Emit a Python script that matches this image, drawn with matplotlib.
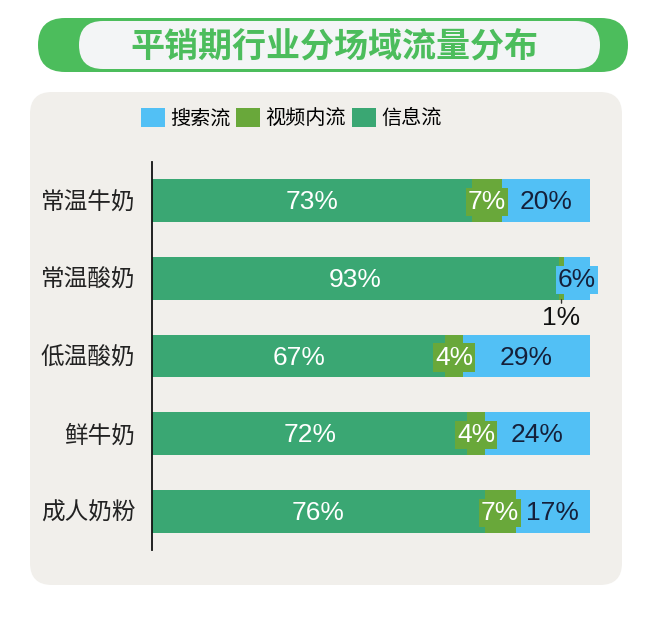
import matplotlib
matplotlib.use("Agg")
import matplotlib.pyplot as plt
from matplotlib.patches import FancyBboxPatch
import numpy as np

plt.rcParams['font.family'] = ['Liberation Sans', 'Noto Sans CJK SC', 'DejaVu Sans']

categories = ['常温牛奶', '常温酸奶', '低温酸奶', '鲜牛奶', '成人奶粉']
info_flow = [73, 93, 67, 72, 76]     # 信息流
video_flow = [7, 1, 4, 4, 7]         # 视频内流
search_flow = [20, 6, 29, 24, 17]    # 搜索流
series_names = ['搜索流', '视频内流', '信息流']

c_info = '#3aa773'
c_video = '#69a83a'
c_search = '#52c0f5'
c_title = '#4cbd5c'

W, H = 660, 620
fig = plt.figure(figsize=(W / 100, H / 100), dpi=100)

# background layer in pixel coordinates
bg = fig.add_axes([0, 0, 1, 1], zorder=-1)
bg.set_xlim(0, W)
bg.set_ylim(H, 0)
bg.axis('off')
bg.add_patch(FancyBboxPatch((38, 18), 590, 54, boxstyle='round,pad=0,rounding_size=27',
                            fc=c_title, ec='none'))
bg.add_patch(FancyBboxPatch((79, 21), 521, 48, boxstyle='round,pad=0,rounding_size=24',
                            fc='#f3f5f6', ec='none'))
bg.text(334, 47, '平销期行业分场域流量分布', ha='center', va='center', fontsize=24.5,
        fontweight='bold', color=c_title, family=['Noto Sans CJK SC'])
bg.add_patch(FancyBboxPatch((30, 92), 592, 493, boxstyle='round,pad=0,rounding_size=22',
                            fc='#f1efeb', ec='none'))

# main chart
ax = fig.add_axes([152 / W, 1 - 550 / H, (590 - 152) / W, (550 - 162) / H])
ax.patch.set_alpha(0)
y = np.arange(len(categories))
h = 0.55
info = np.array(info_flow)
video = np.array(video_flow)
search = np.array(search_flow)

b_info = ax.barh(y, info, height=h, color=c_info)
b_video = ax.barh(y, video, left=info, height=h, color=c_video)
b_search = ax.barh(y, search, left=info + video, height=h, color=c_search)

ax.set_xlim(0, 100)
ax.set_ylim(4.5, -0.5)
ax.set_xticks([])
ax.set_yticks(y)
ax.set_yticklabels(categories, fontsize=17, color='#222222')
ax.tick_params(axis='y', length=0, pad=12)
for s in ['top', 'right', 'bottom']:
    ax.spines[s].set_visible(False)
ax.spines['left'].set_linewidth(1.3)
ax.spines['left'].set_color('#111111')

fs = 19
dy = 0.02
for i in range(len(categories)):
    ax.text(info[i] / 2, y[i] + dy, f'{info[i]}%', ha='center', va='center',
            fontsize=fs, color='white')
    if video[i] >= 3:
        ax.text(info[i] + video[i] / 2, y[i] + dy, f'{video[i]}%', ha='center', va='center',
                fontsize=fs, color='white',
                bbox=dict(boxstyle='square,pad=0.08', fc=c_video, ec='none'))
    else:
        ax.annotate(f'{video[i]}%', xy=(info[i] + video[i] / 2, y[i] + h / 2),
                    xytext=(info[i] + video[i] / 2, y[i] + 0.51), ha='center', va='center',
                    fontsize=fs, color='#111111',
                    arrowprops=dict(arrowstyle='-', color='#333333', lw=1, shrinkA=4, shrinkB=0))
    ax.text(info[i] + video[i] + search[i] / 2, y[i] + dy, f'{search[i]}%', ha='center',
            va='center', fontsize=fs, color='#15203a',
            bbox=dict(boxstyle='square,pad=0.08', fc=c_search, ec='none'))

fig.legend([b_search, b_video, b_info], series_names, loc='center',
           bbox_to_anchor=(291 / W, 1 - 118 / H), ncol=3, frameon=False,
           fontsize=14.5, handlelength=1.2, handleheight=1.1, handletextpad=0.25,
           columnspacing=0.3, borderaxespad=0)

fig.savefig('out.png', dpi=100)
